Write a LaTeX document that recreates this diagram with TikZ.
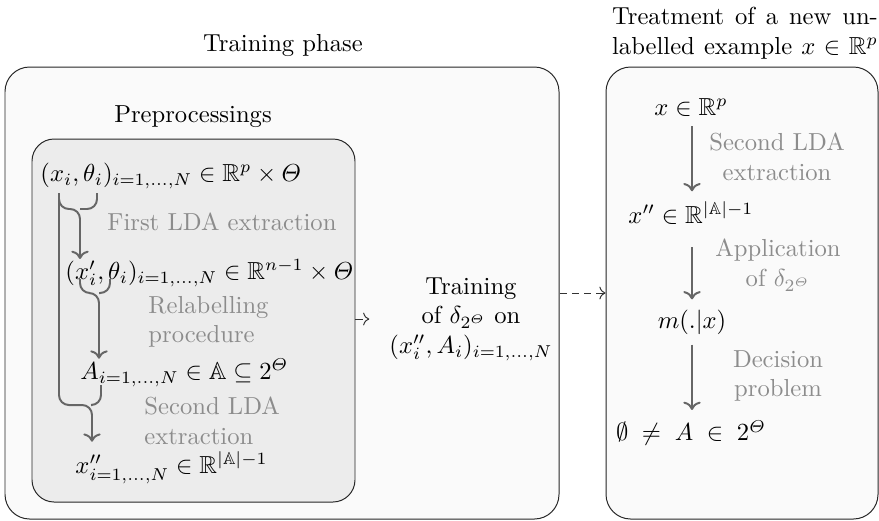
\documentclass[tikz,border=0pt]{standalone}
\usepackage{amsmath,amssymb}
\usepackage{tikz}
\usetikzlibrary{arrows.meta,positioning,calc,fit}
\definecolor{phasefill}{HTML}{FAFAFA}
\definecolor{prepfill}{HTML}{ECECEC}
\definecolor{flowgrey}{HTML}{666666}
\definecolor{labelgrey}{HTML}{8C8C8C}

\begin{document}
\begin{tikzpicture}[x=0.01428cm, y=-0.01428cm,
    phasebox/.style={draw=black!85, fill=phasefill, rounded corners=10pt, inner sep=0pt},
    prepframe/.style={draw=black!85, fill=prepfill, rounded corners=9pt, inner sep=0pt},
    flow/.style={draw=flowgrey, line width=0.8pt},
    link/.style={draw=black!80, densely dashed, ->},
    steplabel/.style={text=labelgrey, align=center},
    every node/.append style={inner sep=0pt}]
    \useasboundingbox (0,0) rectangle (879,520);
    % Phase boxes
    \node[phasebox, fit={(5,67) (559,519)}] (trainbox) {};
    \node[phasebox, fit={(606,67) (878,519)}] (testbox) {};
    \node[prepframe, fit={(32,139) (355,502)}] (prepbox) {};
    % Titles
    \node (trainttl) at (283,45) {Training phase};
    \node[align=center] (testttl) at (745,33) {\makebox[108pt][s]{Treatment of a new un-}\\\makebox[108pt][s]{labelled example $x\in\mathbb{R}^p$}};
    \node (prepttl) at (193,117) {Preprocessings};
    % Preprocessing chain
    \node[anchor=west] (xi) at (40,176) {$(x_i,\theta_i)_{i=1,\ldots,N}\in\mathbb{R}^p\times\varTheta$};
    \node[anchor=west, steplabel] (lda1) at (107,222) {First LDA extraction};
    \node[anchor=west] (xp) at (65,273) {$(x'_i,\theta_i)_{i=1,\ldots,N}\in\mathbb{R}^{n-1}\times\varTheta$};
    \node[anchor=west, steplabel, align=left] (relab) at (148,322) {Relabelling\\procedure};
    \node[anchor=west] (ai) at (80,373) {$A_{i=1,\ldots,N}\in\mathbb{A}\subseteq 2^{\varTheta}$};
    \node[anchor=west, steplabel, align=left] (lda2) at (144,421) {Second LDA\\extraction};
    \node[anchor=west] (xpp) at (75,468) {$x''_{i=1,\ldots,N}\in\mathbb{R}^{|\mathbb{A}|-1}$};
    % Braces
    \coordinate (b1l) at (59,193);
    \coordinate (b1r) at (97,193);
    \coordinate (b1m) at (80,209);
    \coordinate (b2l) at (80,279);
    \coordinate (b2r) at (110,279);
    \coordinate (b2m) at (99,293);
    \coordinate (b3r) at (101,385);
    \coordinate (b3m) at (92,405);
    \draw[flow, rounded corners=4pt] (b1r) |- (b1m);
    \draw[flow, rounded corners=4pt, ->] (b1l) |- (b1m) -- (b1m |- xp.north);
    \draw[flow, rounded corners=4pt] (b2r) |- (b2m);
    \draw[flow, rounded corners=4pt, ->] (b2l) |- (b2m) -- (b2m |- ai.north);
    \draw[flow, rounded corners=4pt] (b3r) |- (b3m);
    \draw[flow, rounded corners=4pt, ->, shorten >=4pt] (b1l) |- (b3m) -- (b3m |- xpp.north);
    % Training
    \node[align=center, inner xsep=8pt] (train) at (471,319) {Training\\of $\delta_{2^{\varTheta}}$ on\\$(x''_i,A_i)_{i=1,\ldots,N}$};
    \draw[link] (prepbox.east |- train.west) -- (train.west);
    \draw[link] (trainbox.east) -- (testbox.west);
    % Treatment chain
    \coordinate (axis) at (692,0);
    \node (rx) at (691,107) {$x\in\mathbb{R}^p$};
    \node (rxpp) at (691,213) {$x''\in\mathbb{R}^{|\mathbb{A}|-1}$};
    \node (rm) at (692,322) {$m(.|x)$};
    \node (rdec) at (691,433) {$\emptyset\;\neq\;A\;\in\;2^{\varTheta}$};
    \node[steplabel] (rlda) at (777,157) {Second LDA\\extraction};
    \node[steplabel] (rapp) at (778,265) {Application\\of $\delta_{2^{\varTheta}}$};
    \node[steplabel] (rdecl) at (778,376) {Decision\\problem};
    \draw[flow, ->, shorten <=4pt, shorten >=4pt] (rx.south -| axis) -- (rxpp.north -| axis);
    \draw[flow, ->, shorten <=9pt, shorten >=4pt] (rxpp.south -| axis) -- (rm.north -| axis);
    \draw[flow, ->, shorten <=4pt, shorten >=4pt] (rm.south -| axis) -- (rdec.north -| axis);
\end{tikzpicture}
\end{document}
